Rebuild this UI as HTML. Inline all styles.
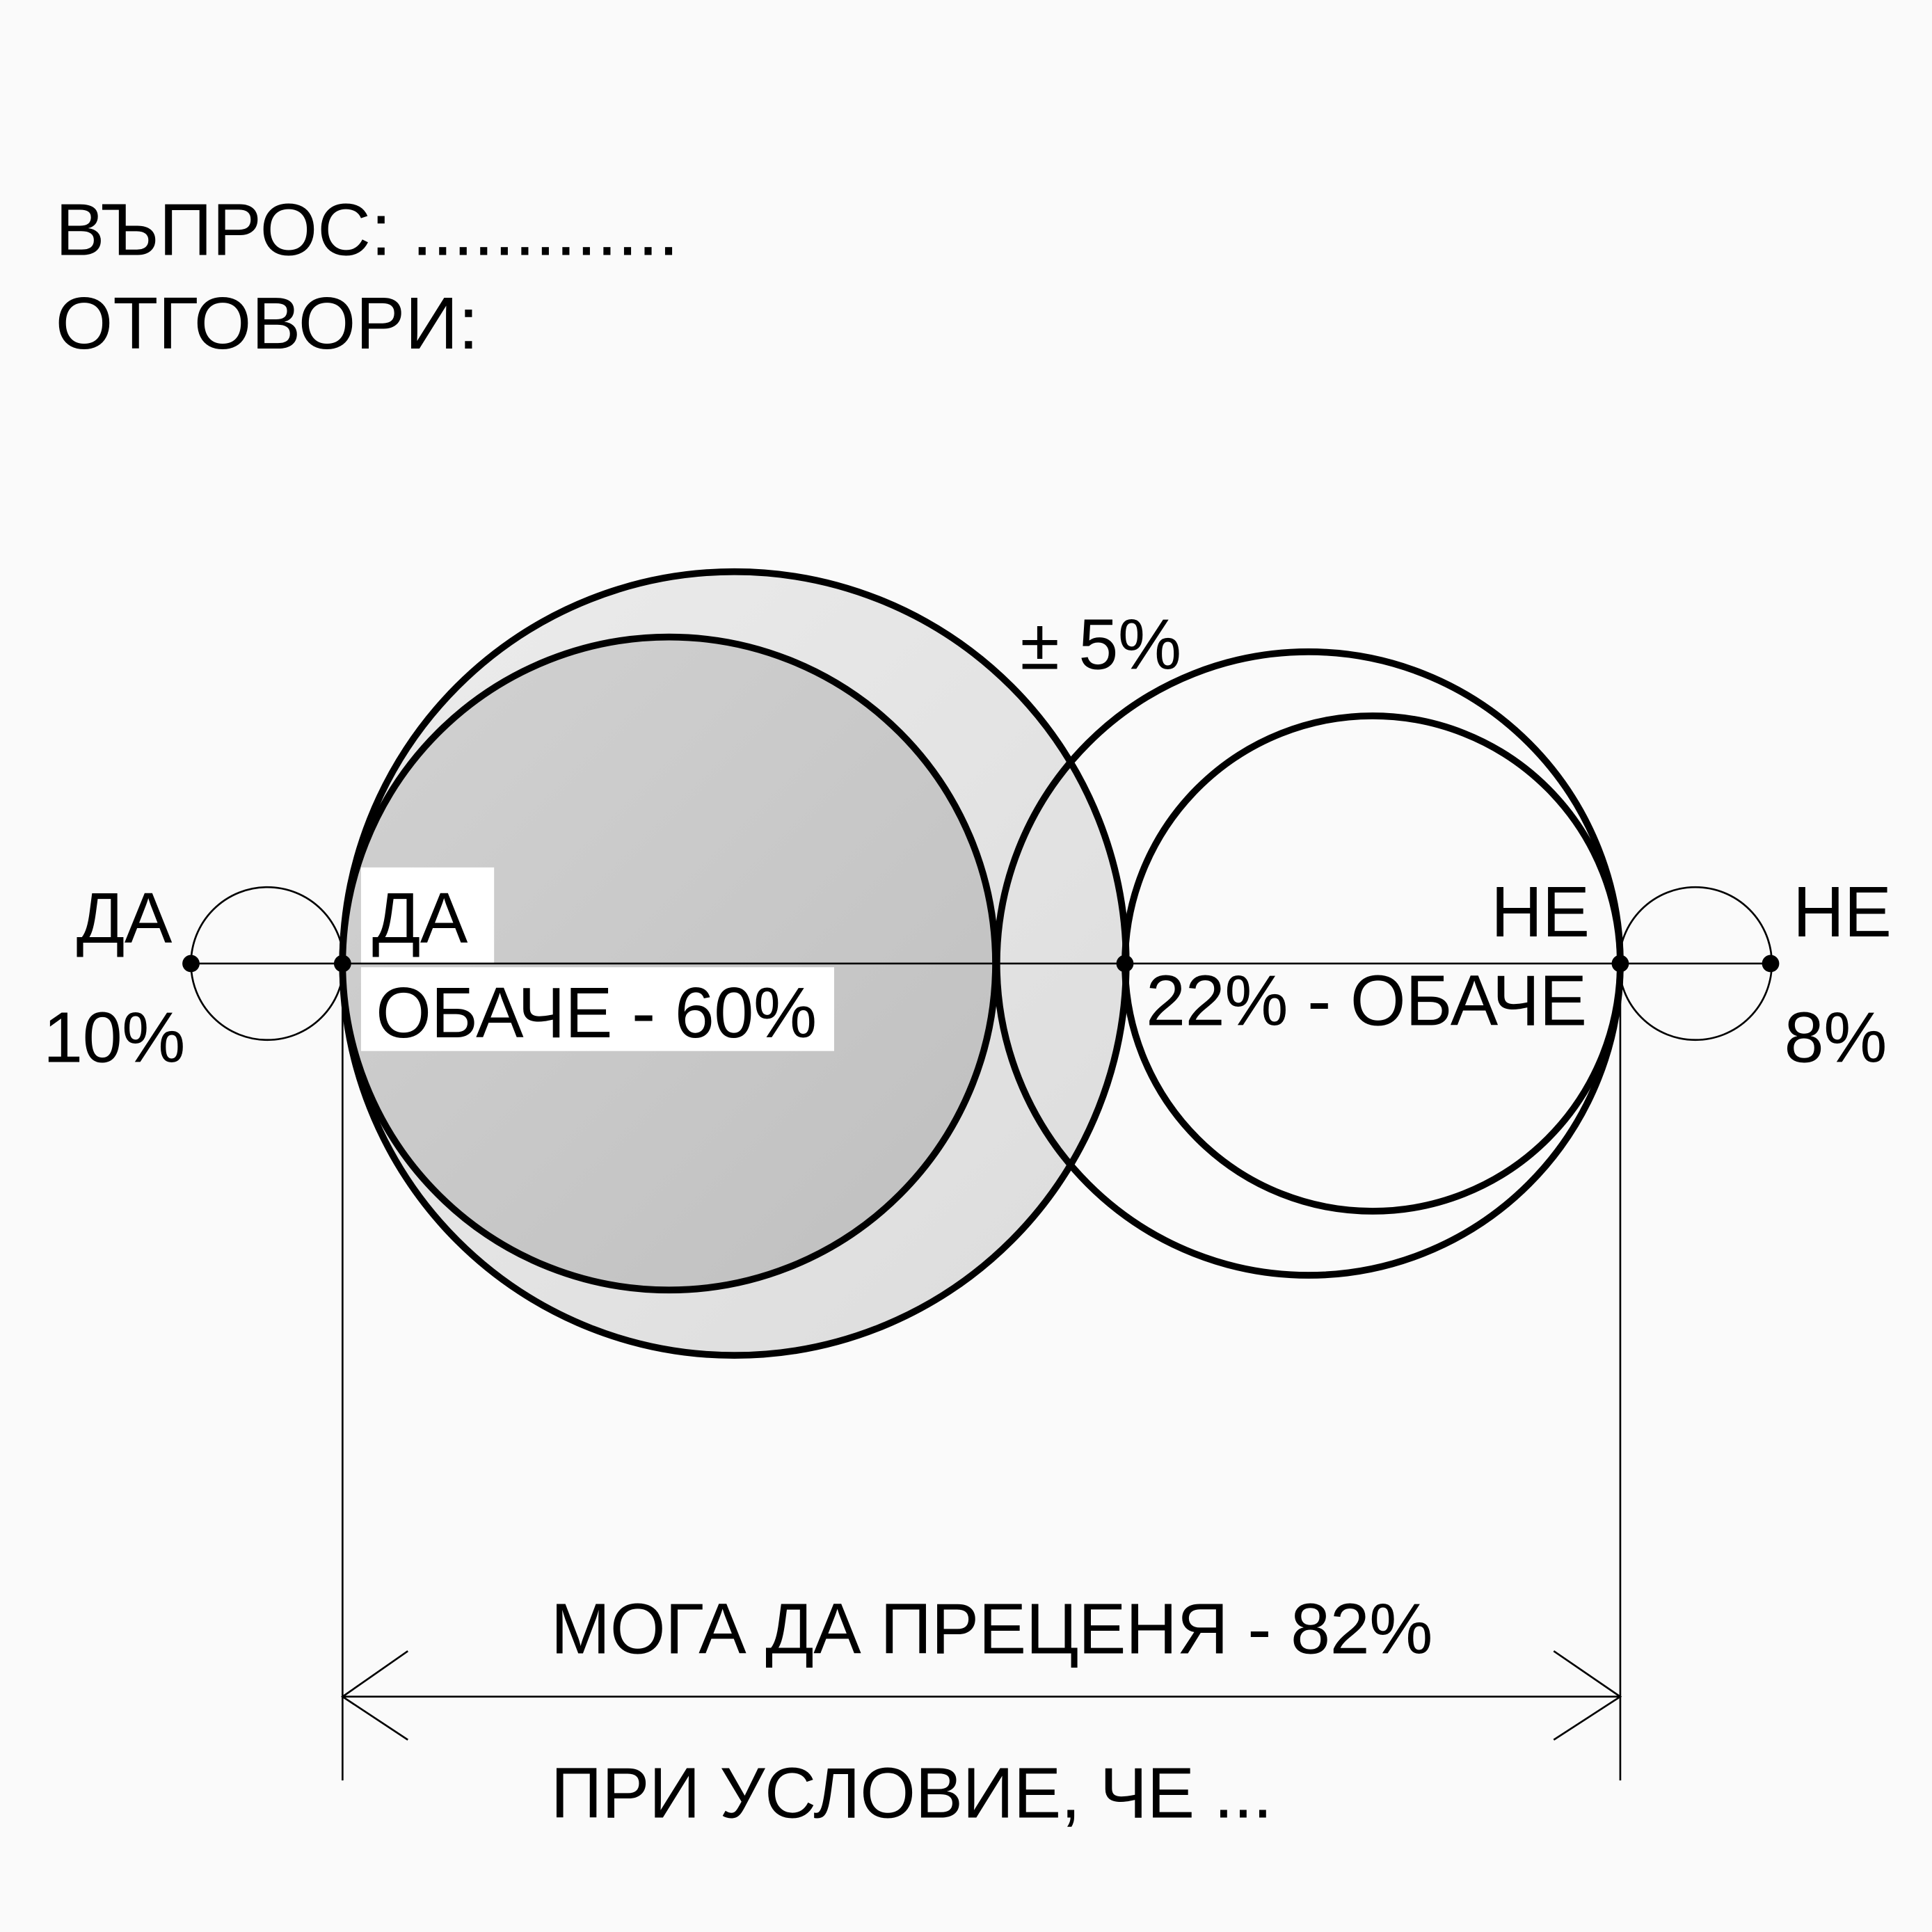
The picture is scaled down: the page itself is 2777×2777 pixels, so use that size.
<!DOCTYPE html>
<html><head><meta charset="utf-8"><style>
html,body{margin:0;padding:0;background:#fafafa;}
svg{display:block;}
text{font-family:"Liberation Sans",sans-serif;fill:#000;}
</style></head><body>
<svg width="2777" height="2777" viewBox="0 0 1568 1568" xmlns="http://www.w3.org/2000/svg">
<defs>
<linearGradient id="g1" x1="0" y1="0" x2="1" y2="1"><stop offset="0" stop-color="#ececec"/><stop offset="1" stop-color="#dcdcdc"/></linearGradient>
<linearGradient id="g2" x1="0" y1="0" x2="1" y2="1"><stop offset="0" stop-color="#d2d2d2"/><stop offset="1" stop-color="#bfbfbf"/></linearGradient>
</defs>
<rect width="1568" height="1568" fill="#fafafa"/>
<text x="45" y="207" font-size="60">ВЪПРОС: .............</text>
<text x="45" y="283" font-size="60">ОТГОВОРИ:</text>

<circle cx="596" cy="782" r="318" fill="url(#g1)" stroke="#000" stroke-width="5.5"/>
<circle cx="543" cy="782" r="265" fill="url(#g2)" stroke="#000" stroke-width="5.5"/>
<circle cx="1062" cy="782" r="253" fill="none" stroke="#000" stroke-width="5.5"/>
<circle cx="1114" cy="782" r="201" fill="none" stroke="#000" stroke-width="5.5"/>
<circle cx="217" cy="782" r="62" fill="none" stroke="#000" stroke-width="1.5"/>
<circle cx="1376" cy="782" r="62" fill="none" stroke="#000" stroke-width="1.5"/>

<rect x="293" y="704" width="108" height="78" fill="#fff"/>
<rect x="293" y="785" width="384" height="68" fill="#fff"/>

<line x1="155" y1="782" x2="1437" y2="782" stroke="#000" stroke-width="1.5"/>
<line x1="278" y1="782" x2="278" y2="1445" stroke="#000" stroke-width="1.5"/>
<line x1="1315" y1="782" x2="1315" y2="1445" stroke="#000" stroke-width="1.5"/>
<line x1="278" y1="1377" x2="1315" y2="1377" stroke="#000" stroke-width="1.5"/>
<polyline points="331,1340 278,1377 331,1412" fill="none" stroke="#000" stroke-width="1.5"/>
<polyline points="1261,1340 1315,1377 1261,1412" fill="none" stroke="#000" stroke-width="1.5"/>

<g fill="#000">
<circle cx="155" cy="782" r="7"/><circle cx="278" cy="782" r="7"/><circle cx="913" cy="782" r="7"/><circle cx="1315" cy="782" r="7"/><circle cx="1437" cy="782" r="7"/>
</g>

<g letter-spacing="-0.3">
<text x="62" y="765" font-size="58">ДА</text>
<text x="35" y="862" font-size="58">10%</text>
<text x="302" y="765" font-size="58">ДА</text>
<text x="305" y="842" font-size="58">ОБАЧЕ - 60%</text>
<text x="1210" y="760" font-size="58">НЕ</text>
<text x="930" y="832" font-size="58">22% - ОБАЧЕ</text>
<text x="1455" y="760" font-size="58">НЕ</text>
<text x="1448" y="862" font-size="58">8%</text>
<text x="828" y="543" font-size="58">± 5%</text>
<text x="447" y="1342" font-size="58">МОГА ДА ПРЕЦЕНЯ - 82%</text>
<text x="447" y="1475" font-size="58">ПРИ УСЛОВИЕ, ЧЕ ...</text>
</g>
</svg>
</body></html>
